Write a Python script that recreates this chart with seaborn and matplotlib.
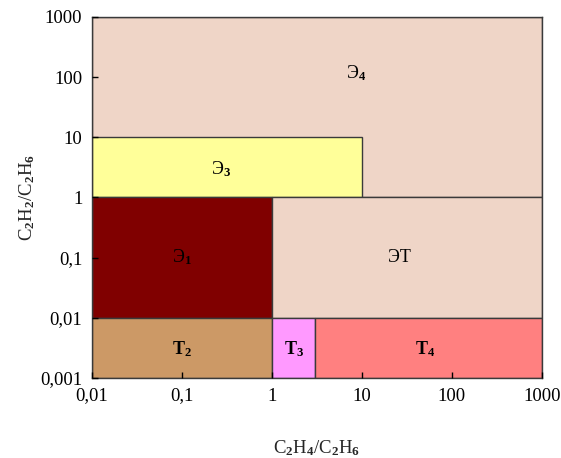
import matplotlib
matplotlib.use("Agg")
import matplotlib.pyplot as plt
import seaborn as sns

# zones of the diagnostic map (x = C2H4/C2H6, y = C2H2/C2H6)
zone_names = ["Э4", "Э3", "Э1", "ЭТ", "T2", "T3", "T4"]
x_lo = [0.01, 0.01, 0.01, 1, 0.01, 1, 3]
x_hi = [1000, 10, 1, 1000, 1, 3, 1000]
y_lo = [1, 1, 0.01, 0.01, 0.001, 0.001, 0.001]
y_hi = [1000, 10, 1, 1, 0.01, 0.01, 0.01]
zone_colors = ["#EFD5C7", "#FFFF99", "#800000", "#EFD5C7", "#CC9966", "#FF99FF", "#FF8080"]

# label anchor points
label_text = [r"Э$_\mathbf{4}$", r"Э$_\mathbf{3}$", r"Э$_\mathbf{1}$", "ЭТ",
              r"T$_\mathbf{2}$", r"T$_\mathbf{3}$", r"T$_\mathbf{4}$"]
label_x = [8.5, 0.27, 0.1, 26, 0.1, 1.75, 50]
label_y = [115, 3, 0.1, 0.1, 0.003, 0.003, 0.003]

tick_vals = [0.001, 0.01, 0.1, 1, 10, 100, 1000]
tick_text = ["0,001", "0,01", "0,1", "1", "10", "100", "1000"]

sns.set_style("ticks")
plt.rcParams["font.family"] = ["Liberation Serif", "DejaVu Serif"]
plt.rcParams["mathtext.fontset"] = "custom"
plt.rcParams["mathtext.rm"] = "Liberation Serif"
plt.rcParams["mathtext.it"] = "Liberation Serif"
plt.rcParams["mathtext.bf"] = "Liberation Serif:bold"

fig, ax = plt.subplots(figsize=(5.61, 4.58), dpi=100)
fig.subplots_adjust(left=0.164, right=0.966, top=0.963, bottom=0.175)

ax.set_xscale("log")
ax.set_yscale("log")
ax.set_axisbelow(False)

for i in range(len(zone_names)):
    ax.bar(x_lo[i], y_hi[i] - y_lo[i], width=x_hi[i] - x_lo[i], bottom=y_lo[i],
           align="edge", color=zone_colors[i], edgecolor="#3a3a3a", linewidth=1.0, zorder=1)

for i in range(len(label_text)):
    weight = "bold" if label_text[i].startswith("T") else "normal"
    ax.text(label_x[i], label_y[i], label_text[i], ha="center", va="center",
            fontsize=13, fontweight=weight, color="black", zorder=3)

ax.set_xlim(0.01, 1000)
ax.set_ylim(0.001, 1000)
ax.set_xticks(tick_vals[1:])
ax.set_xticklabels(tick_text[1:])
ax.set_yticks(tick_vals)
ax.set_yticklabels(tick_text)
ax.minorticks_off()
ax.tick_params(direction="in", length=4, width=1.0, labelsize=13.5, pad=7,
               colors="black", zorder=5)

for side in ax.spines.values():
    side.set_color("#3a3a3a")
    side.set_linewidth(1.0)

ax.set_xlabel(r"C$_\mathbf{2}$H$_\mathbf{4}$/C$_\mathbf{2}$H$_\mathbf{6}$", fontsize=13.5, labelpad=24)
ax.set_ylabel(r"C$_\mathbf{2}$H$_\mathbf{2}$/C$_\mathbf{2}$H$_\mathbf{6}$", fontsize=13.5, labelpad=2)

plt.savefig("out.png", dpi=100)
